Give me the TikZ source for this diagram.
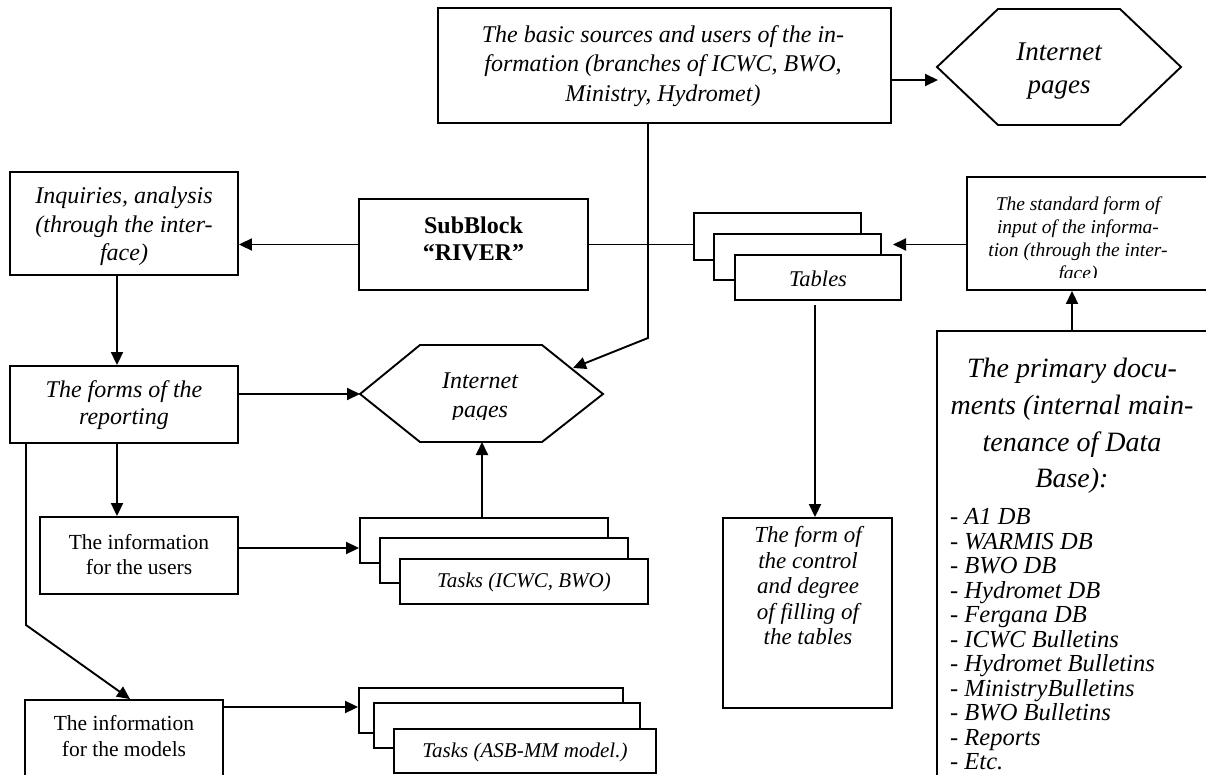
\documentclass[tikz,border=0pt]{standalone}
\usepackage{fontspec}
\setmainfont{Liberation Serif}
\usetikzlibrary{arrows.meta,fit}
\begin{document}
\begin{tikzpicture}[x=1bp,y=-1bp,
  ln/.style={line width=1.9bp, line join=miter},
  bx/.style={draw, line width=1.9bp, inner sep=0pt, fill=white},
  arr/.style={ln, -{Triangle[length=13bp,width=12bp]}},
  tx/.style={inner sep=0pt, align=center},
]
\path[use as bounding box, clip] (0,0) rectangle (1206,775);
\fill[white] (0,0) rectangle (1206,775);

% ---------- boxes ----------
\node[bx, fit={(438,8) (891,123)}] (top) {};
\node[tx, font=\fontsize{24bp}{29.5bp}\selectfont\itshape] (toptext) at (663,66)
  {The basic sources and users of the in-\\formation (branches of ICWC, BWO,\\Ministry, Hydromet)};

\draw[ln, fill=white] (937,67) -- (998,9) -- (1120,9) -- (1181,67) -- (1120,125) -- (998,125) -- cycle;
\coordinate (hTa) at (938,80);
\node[tx, font=\fontsize{27bp}{33bp}\selectfont\itshape] (hextop) at (1059,71) {Internet\\pages};

\node[bx, fit={(10,172) (238,275)}] (inq) {};
\node[tx, font=\fontsize{24bp}{28.5bp}\selectfont\itshape] (inqtext) at (124,226.5)
  {Inquiries, analysis\\(through the inter-\\face)};

\node[bx, fit={(359,199) (588,290)}] (sub) {};
\node[tx, font=\fontsize{24bp}{27bp}\selectfont\bfseries] (subtext) at (473.5,238.5)
  {SubBlock\\“RIVER”};

\node[bx, fit={(694,213) (861,260)}] (tb1) {};
\node[bx, fit={(714,234) (881,280)}] (tb2) {};
\node[bx, fit={(735,255) (901,300)}] (tb3) {};
\node[tx, font=\fontsize{22.5bp}{27bp}\selectfont\itshape] (tbtext) at (818,279) {Tables};

\node[bx, fit={(967,177) (1260,290)}] (form) {};
\begin{scope}
  \clip (967,177) rectangle (1206,277.5);
  \node[tx, font=\fontsize{19.5bp}{23bp}\selectfont\itshape] (formtext) at (1078,240)
    {The standard form of\\input of the informa-\\tion (through the inter-\\face)};
\end{scope}

\node[bx, fit={(937,331) (1260,800)}] (prim) {};
\node[tx, font=\fontsize{28bp}{36.7bp}\selectfont\itshape] (primtitle) at (1072,426)
  {The primary docu-\\ments (internal main-\\tenance of Data\\Base):};
\node[inner sep=0pt, align=left, anchor=west, font=\fontsize{24.5bp}{24.5bp}\selectfont\itshape] (primlist) at (950,639.5)
  {- A1 DB\\- WARMIS DB\\- BWO DB\\- Hydromet DB\\- Fergana DB\\- ICWC Bulletins\\- Hydromet Bulletins\\- MinistryBulletins\\- BWO Bulletins\\- Reports\\- Etc.};

\node[bx, fit={(10,366) (238,443)}] (forms) {};
\node[tx, font=\fontsize{24bp}{27bp}\selectfont\itshape] (formstext) at (124,405)
  {The forms of the\\reporting};

\draw[ln, fill=white] (360,394) -- (420,345) -- (542,345) -- (603,394) -- (542,442) -- (420,442) -- cycle;
\begin{scope}
  \clip (360,345) rectangle (603,419);
  \node[tx, font=\fontsize{24bp}{29bp}\selectfont\itshape] (hexlow) at (480,397.5) {Internet\\pages};
\end{scope}
\coordinate (hLw) at (360,394);
\coordinate (hLne) at (573,368);
\coordinate (hLs) at (482,442);

\node[bx, fit={(40,517) (238,594)}] (users) {};
\node[tx, font=\fontsize{21.5bp}{25bp}\selectfont] (userstext) at (139,554.5)
  {The information\\for the users};

\node[bx, fit={(360,518) (608,563)}] (ic1) {};
\node[bx, fit={(380,538) (628,583)}] (ic2) {};
\node[bx, fit={(400,559) (648,604)}] (ic3) {};
\node[tx, font=\fontsize{21bp}{25bp}\selectfont\itshape] (ictext) at (524,582) {Tasks (ICWC, BWO)};

\node[bx, fit={(723,518) (892,708)}] (ctrl) {};
\node[tx, font=\fontsize{23bp}{25.5bp}\selectfont\itshape] (ctrltext) at (808,586)
  {The form of\\the control\\and degree\\of filling of\\the tables};

\node[bx, fit={(25,700) (223,830)}] (models) {};
\node[tx, font=\fontsize{21.5bp}{26bp}\selectfont] (modelstext) at (124,736)
  {The information\\for the models};

\node[bx, fit={(359,688) (623,733)}] (md1) {};
\node[bx, fit={(374,703) (640,748)}] (md2) {};
\node[bx, fit={(394,729) (656,773)}] (md3) {};
\node[tx, font=\fontsize{21bp}{25bp}\selectfont\itshape] (mdtext) at (525,752) {Tasks (ASB-MM model.)};

% ---------- connectors ----------
\draw[arr] (top.east |- hTa) -- (hTa);
\coordinate (v1) at (648,338);
\draw[arr] (top.south -| v1) -- (v1) -- (hLne);
\draw[arr] (sub.west) -- (inq.east |- sub.west);
\draw[ln] (sub.east) -- (tb1.west |- sub.east);
\coordinate (tba) at (893,244.5);
\draw[arr] (form.west |- tba) -- (tba);
\coordinate (pa) at (1072,0);
\draw[arr] (prim.north -| pa) -- (form.south -| pa);
\coordinate (ta) at (815,305);
\draw[arr] (ta) -- (ctrl.north -| ta);
\coordinate (xa) at (117,0);
\draw[arr] (inq.south -| xa) -- (forms.north -| xa);
\draw[arr] (forms.east |- hLw) -- (hLw);
\draw[arr] (forms.south -| xa) -- (users.north -| xa);
\coordinate (b1) at (26,625);
\coordinate (mt) at (130,0);
\draw[arr] (forms.south -| b1) -- (b1) -- (models.north -| mt);
\coordinate (ua) at (0,548);
\draw[arr] (users.east |- ua) -- (ic1.west |- ua);
\draw[arr] (ic1.north -| hLs) -- (hLs);
\coordinate (ma) at (0,707);
\draw[arr] (models.east |- ma) -- (md1.west |- ma);
\end{tikzpicture}
\end{document}
